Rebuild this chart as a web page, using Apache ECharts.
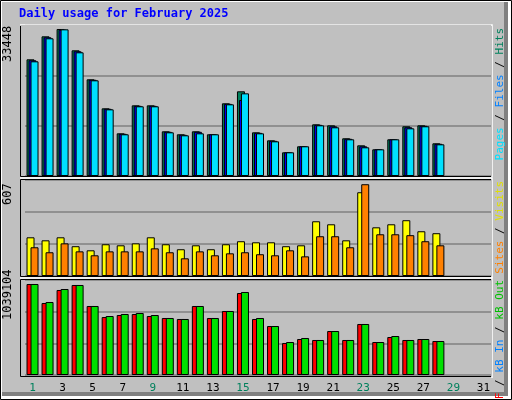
<!DOCTYPE html>
<html><head><meta charset="utf-8">
<script src="https://cdn.jsdelivr.net/npm/echarts@6/dist/echarts.min.js"></script>
<style>html,body{margin:0;padding:0;background:#fff}#c{width:512px;height:400px}</style>
</head><body><div id="c"></div>
<script>
const days = Array.from({length:31},(_, i)=>String(i+1));
const weekendDays = [1,2,8,9,15,16,22,23,29,30];
const hits  = [26550,31780,33448,28600,22000,15400,9710,16080,16080,10170,9490,10170,9490,16540,19270,9940,8120,5390,6760,11760,11530,8580,6980,6070,8350,11310,11530,7440];
const files = [26320,31550,33300,28370,21890,15290,9600,15970,15970,10060,9380,10060,9490,16420,17290,9830,8010,5390,6760,11650,11300,8470,6750,6070,8350,11080,11420,7330];
const pages = [26095,31330,33370,28140,21770,15170,9490,15860,15860,9940,9260,9710,9490,16310,18810,9710,7890,5390,6760,11530,11080,8350,6530,6070,8350,10850,11310,7210];
const visits = [256,236,256,197,170,210,203,216,256,210,177,203,177,210,230,223,223,197,203,362,342,236,554,322,342,369,296,283];
const sites  = [190,157,216,163,137,163,163,163,183,157,117,163,137,150,157,144,137,170,130,263,263,190,607,276,276,270,230,203];
const kbF   = [1039104,822000,970600,1027700,788000,662000,685000,696600,673700,650900,639500,788000,650900,730800,936000,639500,559500,365400,411000,399700,502400,399700,582400,376800,433900,399700,411000,388200];
const kbOut = [1039104,833600,982000,1027700,788000,673700,696600,708000,685000,650900,639500,788000,650900,730800,947800,650900,559500,376800,422500,399700,502400,399700,582400,376800,445300,399700,411000,388200];
const maxLabels = ['33448','607','1039104'];

const chart = echarts.init(document.getElementById('c'));
const grids = [
  {left:25,right:21,top:25,height:151},
  {left:25,right:21,top:180,height:96},
  {left:25,right:21,top:280,height:95}
];
const ymax = [34358,635,1084777];
const bord = {borderColor:'#000',borderWidth:1};
function xa(i,show){return {type:'category',gridIndex:i,data:days,axisLine:{show:false},axisTick:{show:false},
  axisLabel:{show:show,margin:8,fontFamily:'DejaVu Sans Mono',fontSize:11,
   color:(v)=>weekendDays.includes(+v)?'#00805c':'#000'}};}
function ya(i){return {type:'value',gridIndex:i,min:0,max:ymax[i],interval:ymax[i]/3,axisLabel:{show:false},
  axisLine:{show:false},axisTick:{show:false},splitLine:{lineStyle:{color:'#808080',width:1.5}}};}
function bar(i,data,color,w,gap,z){return {type:'bar',xAxisIndex:i,yAxisIndex:i,data,barWidth:w,barGap:gap,
  itemStyle:Object.assign({color},bord),z:z,animation:false,silent:true};}
const mono='DejaVu Sans Mono';
chart.setOption({
  animation:false,
  backgroundColor:'#fff',
  grid:grids,
  xAxis:[xa(0,false),xa(1,false),xa(2,true)],
  yAxis:[ya(0),ya(1),ya(2)],
  graphic:[
    {type:'rect',shape:{x:2,y:2,width:506,height:394},style:{fill:'#808080'},z:-10},
    {type:'rect',shape:{x:2,y:2,width:502,height:390},style:{fill:'#c0c0c0'},z:-9},
    {type:'rect',shape:{x:0.5,y:0.5,width:511,height:399},style:{fill:null,stroke:'#000'},z:-8},
    {type:'rect',shape:{x:20.5,y:25.5,width:471,height:151},style:{fill:null,stroke:'#000'},z:5},
    {type:'rect',shape:{x:20.5,y:179.5,width:471,height:97},style:{fill:null,stroke:'#000'},z:5},
    {type:'rect',shape:{x:20.5,y:279.5,width:471,height:97},style:{fill:null,stroke:'#000'},z:5},
    {type:'polyline',shape:{points:[[20,25],[492,25],[492,177]]},style:{stroke:'#fff',lineWidth:1.5},z:6},
    {type:'polyline',shape:{points:[[20,178],[492,178],[492,278]]},style:{stroke:'#fff',lineWidth:1.5},z:6},
    {type:'polyline',shape:{points:[[20,278],[492,278],[492,378]]},style:{stroke:'#fff',lineWidth:1.5},z:6},
    {type:'text',left:19,top:8,style:{text:'Daily usage for February 2025',fill:'#0000ff',font:'bold 12px '+mono}},
    {type:'text',x:8,y:62,rotation:Math.PI/2,style:{text:maxLabels[0],fill:'#000',font:'12px '+mono,align:'left',verticalAlign:'middle'}},
    {type:'text',x:8,y:205,rotation:Math.PI/2,style:{text:maxLabels[1],fill:'#000',font:'12px '+mono,align:'left',verticalAlign:'middle'}},
    {type:'text',x:8,y:320,rotation:Math.PI/2,style:{text:maxLabels[2],fill:'#000',font:'12px '+mono,align:'left',verticalAlign:'middle'}},
    {type:'text',x:500,y:28,rotation:Math.PI/2,style:{align:'right',verticalAlign:'middle',font:'11px '+mono,
      text:'{a|Pages}{k| / }{b|Files}{k| / }{c|Hits}',rich:{a:{fill:'#00e0ff',font:'11px '+mono},b:{fill:'#0080ff',font:'11px '+mono},k:{fill:'#000',font:'11px '+mono},c:{fill:'#00805c',font:'11px '+mono}}}},
    {type:'text',x:500,y:181,rotation:Math.PI/2,style:{align:'right',verticalAlign:'middle',font:'11px '+mono,
      text:'{a|Sites}{k| / }{b|Visits}',rich:{a:{fill:'#ff8000',font:'11px '+mono},b:{fill:'#e0e000',font:'11px '+mono},k:{fill:'#000',font:'11px '+mono}}}},
    {type:'text',x:500,y:280,rotation:Math.PI/2,style:{align:'right',verticalAlign:'middle',font:'11px '+mono,
      text:'{a|kB F}{k| / }{b|kB In}{k| / }{c|kB Out}',rich:{a:{fill:'#ff0000',font:'11px '+mono},b:{fill:'#0080ff',font:'11px '+mono},k:{fill:'#000',font:'11px '+mono},c:{fill:'#00c000',font:'11px '+mono}}}}
  ],
  series:[
    bar(0,hits,'#00805c',8,'-75%',1),
    bar(0,files,'#0000ff',8,'-75%',2),
    bar(0,pages,'#00e0ff',8,'-75%',3),
    bar(1,visits,'#ffff00',8,'-50%',1),
    bar(1,sites,'#ff8000',8,'-50%',2),
    bar(2,kbF,'#ff0000',8,'-50%',1),
    bar(2,kbOut,'#00e000',8,'-50%',2)
  ]
});
</script></body></html>
